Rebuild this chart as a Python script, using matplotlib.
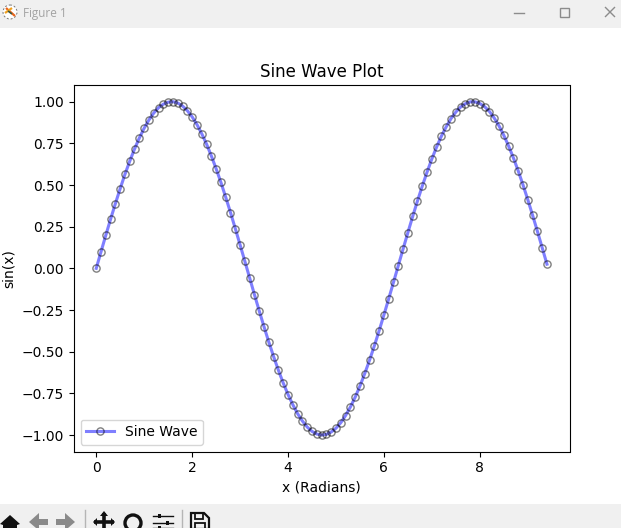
import matplotlib
matplotlib.use("Agg")
import matplotlib.pyplot as plt
from matplotlib.patches import Rectangle, Circle, Polygon

x_values = [0.0, 0.1, 0.2, 0.3, 0.4, 0.5, 0.6, 0.7, 0.8, 0.9,
            1.0, 1.1, 1.2, 1.3, 1.4, 1.5, 1.6, 1.7, 1.8, 1.9,
            2.0, 2.1, 2.2, 2.3, 2.4, 2.5, 2.6, 2.7, 2.8, 2.9,
            3.0, 3.1, 3.2, 3.3, 3.4, 3.5, 3.6, 3.7, 3.8, 3.9,
            4.0, 4.1, 4.2, 4.3, 4.4, 4.5, 4.6, 4.7, 4.8, 4.9,
            5.0, 5.1, 5.2, 5.3, 5.4, 5.5, 5.6, 5.7, 5.8, 5.9,
            6.0, 6.1, 6.2, 6.3, 6.4, 6.5, 6.6, 6.7, 6.8, 6.9,
            7.0, 7.1, 7.2, 7.3, 7.4, 7.5, 7.6, 7.7, 7.8, 7.9,
            8.0, 8.1, 8.2, 8.3, 8.4, 8.5, 8.6, 8.7, 8.8, 8.9,
            9.0, 9.1, 9.2, 9.3, 9.4]
y_values = [0.000, 0.100, 0.199, 0.296, 0.389, 0.479, 0.565, 0.644, 0.717, 0.783,
            0.841, 0.891, 0.932, 0.964, 0.985, 0.997, 1.000, 0.992, 0.974, 0.946,
            0.909, 0.863, 0.808, 0.746, 0.675, 0.598, 0.516, 0.427, 0.335, 0.239,
            0.141, 0.042, -0.058, -0.158, -0.256, -0.351, -0.443, -0.530, -0.612, -0.688,
            -0.757, -0.818, -0.872, -0.916, -0.952, -0.978, -0.994, -1.000, -0.996, -0.982,
            -0.959, -0.926, -0.883, -0.832, -0.773, -0.706, -0.631, -0.551, -0.465, -0.374,
            -0.279, -0.182, -0.083, 0.017, 0.117, 0.215, 0.312, 0.405, 0.494, 0.578,
            0.657, 0.729, 0.794, 0.850, 0.899, 0.938, 0.968, 0.988, 0.999, 0.999,
            0.989, 0.970, 0.941, 0.902, 0.855, 0.798, 0.734, 0.663, 0.585, 0.501,
            0.412, 0.319, 0.223, 0.124, 0.025]
series_label = "Sine Wave"
chart_title = "Sine Wave Plot"
x_label = "x (Radians)"
y_label = "sin(x)"
window_title = "Figure 1"

W, H = 621, 528
fig = plt.figure(figsize=(W / 100, H / 100), dpi=100, facecolor="white")

# Window chrome, drawn in pixel coordinates on an overlay
ui = fig.add_axes([0, 0, 1, 1], zorder=0)
ui.set_xlim(0, W)
ui.set_ylim(H, 0)
ui.axis("off")
BG = "#f0f0f0"
ui.add_patch(Rectangle((0, 0), W, 28, fc=BG, ec="none"))
ui.add_patch(Rectangle((0, 504), W, 24, fc=BG, ec="none"))
ui.text(23, 13, window_title, fontsize=8.5, color="#a3a3a3", family="Open Sans",
        ha="left", va="center")

# app icon
ui.add_patch(Circle((10, 12), 7, fc="white", ec="#777777", lw=0.7, ls=(0, (2, 2))))
ui.plot([6, 15], [8, 16], color="#e8641b", lw=1.6, solid_capstyle="butt")
ui.plot([5, 12], [13, 8], color="#f0a020", lw=1.6, solid_capstyle="butt")
ui.plot([8, 12], [11, 14], color="#3a5a40", lw=1.2, solid_capstyle="butt")

# window buttons
GREY = "#8c8c8c"
ui.plot([514, 524], [12.5, 12.5], color=GREY, lw=1)
ui.add_patch(Rectangle((559.5, 7.5), 9, 9, fc="none", ec=GREY, lw=1))
ui.plot([605.5, 614.5], [7.5, 16.5], color=GREY, lw=1)
ui.plot([605.5, 614.5], [16.5, 7.5], color=GREY, lw=1)

# toolbar icons
K = "#111111"
ui.add_patch(Polygon([[0, 524], [10, 515], [20, 524], [17, 525], [17, 528], [3, 528], [3, 525]],
                     fc=K, ec="none"))
ui.add_patch(Polygon([[29, 522], [39, 513], [39, 519], [48, 519], [48, 525], [39, 525], [39, 528], [36, 528]],
                     fc="#8a8a8a", ec="none"))
ui.add_patch(Polygon([[75, 522], [65, 513], [65, 519], [56, 519], [56, 525], [65, 525], [65, 528], [68, 528]],
                     fc="#8a8a8a", ec="none"))
ui.plot([84.5, 84.5], [510, 528], color="#b5b5b5", lw=1)
ui.plot([181.5, 181.5], [510, 528], color="#b5b5b5", lw=1)
ui.plot([94, 114], [522, 522], color=K, lw=2.6, solid_capstyle="butt")
ui.plot([104, 104], [513, 528], color=K, lw=2.6, solid_capstyle="butt")
ui.add_patch(Polygon([[93, 522], [97, 518], [97, 526]], fc=K, ec="none"))
ui.add_patch(Polygon([[115, 522], [111, 518], [111, 526]], fc=K, ec="none"))
ui.add_patch(Polygon([[104, 511], [100, 516], [108, 516]], fc=K, ec="none"))
ui.add_patch(Circle((133, 523), 8, fc="none", ec=K, lw=2.4))
ui.plot([138, 143], [529, 534], color=K, lw=3)
for yy, xx in ((515.5, 159), (522.5, 167), (527.5, 159)):
    ui.plot([153, 173], [yy, yy], color=K, lw=1)
    ui.add_patch(Rectangle((xx - 1.5, yy - 2), 3, 4, fc=K, ec="none"))
ui.add_patch(Polygon([[191, 529], [191, 513], [204, 513], [209, 518], [209, 529]], fc="none", ec=K, lw=1.6))
ui.add_patch(Rectangle((195, 513), 8, 6, fc="none", ec=K, lw=1.3))
ui.add_patch(Rectangle((195, 523), 10, 6, fc="none", ec=K, lw=1.3))

# Chart
left, right, top, bottom = 73.7, 569.5, 85.0, 451.7
ax = fig.add_axes([left / W, 1 - bottom / H, (right - left) / W, (bottom - top) / H], zorder=1)
ax.plot(x_values, y_values, color="blue", alpha=0.5, lw=2.2, marker="o", ms=5.2,
        markerfacecolor="none", markeredgecolor="black", markeredgewidth=1, label=series_label)
ax.set_title(chart_title, fontsize=12)
ax.set_xlabel(x_label)
ax.set_ylabel(y_label)
ax.legend(loc="lower left")

fig.savefig("out.png", dpi=100)
